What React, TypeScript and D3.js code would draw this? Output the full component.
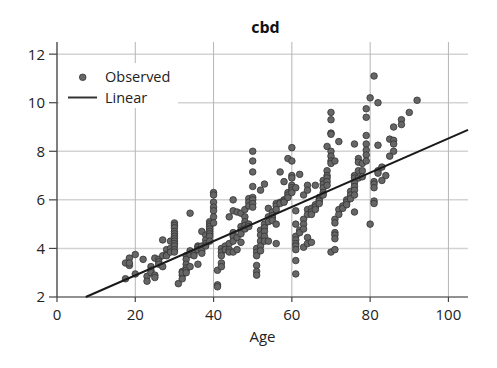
import React from "react";
import * as d3 from "d3";

const title = "cbd";
const xLabel = "Age";
const xTicks = [0, 20, 40, 60, 80, 100];
const yTicks = [2, 4, 6, 8, 10, 12];
const legendLabels = ["Observed", "Linear"];

// Observed points grouped by age
const obsAges = [
  17.5, 18.5, 20, 22, 23, 24, 25, 26, 27, 28, 29, 30, 31, 32, 33, 34, 35, 36, 37, 38, 39, 40,
  41, 42, 43, 44, 45, 46, 47, 48, 49, 50, 51, 52, 53, 54, 55, 56, 57, 58, 59, 60,
  61, 62, 63, 64, 65, 66, 67, 68, 69, 70, 71, 72, 73, 74, 75, 76, 77, 78, 79, 80,
  81, 82, 83, 84, 85, 86, 88, 90, 92,
];
const obsValues = [
  [3.4, 2.75], [3.6, 3.3, 3.4], [3.75, 2.95], [3.55], [2.85, 2.65], [3.25, 3.1, 3.0],
  [3.6, 2.9, 2.8], [3.55, 3.45, 3.35], [4.35, 3.7, 3.25], [3.95, 3.75, 3.7], [4.0, 4.3, 3.85],
  [5.05, 4.95, 4.85, 4.7, 4.6, 4.5, 4.4, 4.3, 4.2, 4.1, 3.95, 3.85], [2.55],
  [3.05, 2.9, 2.75, 3.0], [3.7, 3.55, 3.35, 3.2, 3.1, 3.0], [5.45, 3.9, 3.75, 3.25],
  [3.8, 3.7], [4.1, 4.05, 3.95, 3.35], [4.7, 4.1, 3.9, 3.8], [4.55, 4.35, 4.2, 4.1],
  [5.1, 5.0, 4.9, 4.8, 4.7, 4.6, 4.5, 4.3], [6.3, 6.2, 5.9, 5.7, 5.55, 5.3, 5.05],
  [3.1, 2.5, 2.42], [4.0, 3.85, 3.7, 3.4, 3.25], [4.1, 3.95], [5.3, 4.2, 3.95, 3.85],
  [6.0, 5.55, 4.65, 4.5, 4.3, 3.85], [5.5, 4.45, 3.95], [5.45, 4.9, 4.75, 4.6, 4.25],
  [5.6, 5.3, 5.1, 4.95, 4.8], [6.05, 5.9, 5.75, 5.0, 4.9],
  [8.0, 7.6, 7.15, 6.55, 6.1, 6.0, 5.85, 5.7], [4.0, 3.85, 3.7, 3.3, 3.05, 2.9],
  [6.4, 4.75, 4.55, 4.3, 4.1, 3.9], [6.65, 5.0, 4.85, 4.7, 4.5, 4.3], [5.65, 5.3, 5.1, 4.3],
  [5.5, 5.35, 5.25, 5.15], [5.85, 5.75, 5.6, 5.0, 4.2], [7.15, 5.9, 5.85], [6.75, 6.0, 5.95, 5.9],
  [7.7, 6.3, 6.2, 6.1], [8.15, 7.6, 7.0, 6.9, 6.6, 6.5, 6.4, 6.3],
  [6.5, 5.55, 5.0, 4.5, 4.35, 4.2, 4.1, 3.95, 3.5, 2.95], [7.05, 4.75, 4.65],
  [6.2, 5.2, 5.0, 4.8, 4.05], [6.6, 6.4, 5.6, 5.4, 4.45, 4.2], [5.65, 5.5, 5.4, 4.25],
  [6.6, 5.8, 5.7, 5.6], [6.1, 6.0, 5.95, 5.85], [6.8, 6.65, 6.5, 6.3, 6.2],
  [8.2, 7.2, 7.0, 6.9, 6.75, 6.6], [9.6, 9.3, 8.75, 8.7, 8.0, 7.8, 7.6, 7.5, 3.85],
  [7.6, 5.2, 5.05, 4.65, 4.55, 4.4, 3.95], [8.4, 5.6, 5.4], [5.75, 5.65], [6.0, 5.9, 5.8],
  [6.35, 6.2, 6.05], [8.3, 7.0, 6.9, 6.7, 6.55, 6.4, 6.2, 5.5], [7.7, 7.55, 7.2, 6.9],
  [7.5, 7.2, 6.95], [9.75, 9.4, 8.65, 8.3, 8.05, 7.85, 7.6], [10.2, 5.0],
  [11.1, 6.75, 6.65, 6.5, 5.95, 5.85], [10.0, 8.25, 7.2, 7.1], [7.35, 6.8], [7.0],
  [8.5, 7.8], [9.0, 8.45, 8.3, 8.0], [9.3, 9.1], [9.6], [10.1],
];

// Linear fit line endpoints
const fitAges = [7.35, 105];
const fitValues = [2.0, 8.88];

const W = 497;
const H = 368;
const margin = { left: 57, right: 29, top: 42, bottom: 71 };
const FONT = "'Open Sans', 'Noto Sans', sans-serif";

export default function App() {
  const x = d3.scaleLinear().domain([0, 105]).range([margin.left, W - margin.right]);
  const y = d3.scaleLinear().domain([2, 12.5]).range([H - margin.bottom, margin.top]);
  const points: { a: number; v: number }[] = [];
  obsAges.forEach((a, i) => obsValues[i].forEach((v) => points.push({ a, v })));
  const line = d3
    .line<number>()
    .x((d) => x(d))
    .y((_, i) => y(fitValues[i]));
  const [x0, x1] = x.range();
  const [yb, yt] = y.range();

  return (
    <svg
      width={W}
      height={H}
      style={{ position: "absolute", left: 0, top: 0, background: "#fff" }}
      fontFamily={FONT}
    >
      <rect width={W} height={H} fill="#fff" />
      {/* grid */}
      {yTicks.map((t) => (
        <line key={"gy" + t} x1={x0} x2={x1} y1={y(t)} y2={y(t)} stroke="#d3d3d3" strokeWidth={1.5} />
      ))}
      {xTicks.map((t) => (
        <line key={"gx" + t} x1={x(t)} x2={x(t)} y1={yt} y2={yb} stroke="#b5b5b5" strokeWidth={1} />
      ))}
      {/* legend background */}
      <rect x={59} y={63} width={119} height={45} fill="#fff" />
      {/* axes */}
      <line x1={x0} x2={x0} y1={yt} y2={yb} stroke="#444" strokeWidth={1.2} />
      <line x1={x0} x2={x1} y1={yb} y2={yb} stroke="#444" strokeWidth={1.2} />
      {yTicks.map((t) => (
        <g key={"ty" + t}>
          <line x1={x0 - 8} x2={x0} y1={y(t)} y2={y(t)} stroke="#444" strokeWidth={1.2} />
          <text x={x0 - 12} y={y(t)} dy="0.36em" textAnchor="end" fontSize={15} fill="#222">
            {t}
          </text>
        </g>
      ))}
      {xTicks.map((t) => (
        <g key={"tx" + t}>
          <line x1={x(t)} x2={x(t)} y1={yb} y2={yb + 5} stroke="#444" strokeWidth={1.2} />
          <text x={x(t)} y={yb + 23} textAnchor="middle" fontSize={15} fill="#222">
            {t}
          </text>
        </g>
      ))}
      {/* points */}
      {points.map((p, i) => (
        <circle key={i} cx={x(p.a)} cy={y(p.v)} r={3.3} fill="#666" stroke="#333" strokeWidth={0.8} />
      ))}
      {/* fit line */}
      <path d={line(fitAges) || ""} fill="none" stroke="#1a1a1a" strokeWidth={2} />
      {/* legend */}
      <circle cx={82.7} cy={77.3} r={3.3} fill="#666" stroke="#333" strokeWidth={0.8} />
      <text x={105} y={82} fontSize={14.5} fill="#222">{legendLabels[0]}</text>
      <line x1={68} x2={97} y1={97.5} y2={97.5} stroke="#333" strokeWidth={2} />
      <text x={105} y={102.5} fontSize={14.5} fill="#222">{legendLabels[1]}</text>
      {/* titles */}
      <text x={(x0 + x1) / 2 + 3} y={33} textAnchor="middle" fontSize={16} fontWeight="bold" fill="#111">
        {title}
      </text>
      <text x={(x0 + x1) / 2} y={342} textAnchor="middle" fontSize={15} fill="#222">
        {xLabel}
      </text>
    </svg>
  );
}
